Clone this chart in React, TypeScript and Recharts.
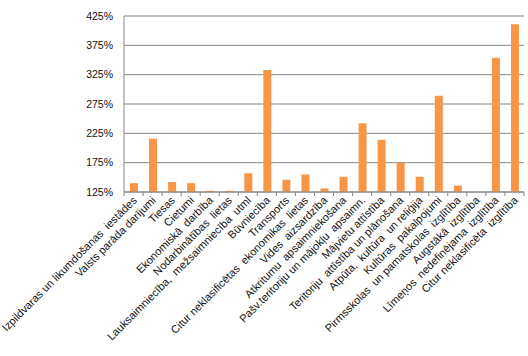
import React from "react";
import { BarChart, Bar, XAxis, YAxis, CartesianGrid } from "recharts";

const categories = [
  "Izpildvaras un likumdošanas  iestādes",
  "Valsts parāda darījumi",
  "Tiesas",
  "Cietumi",
  "Ekonomiskā  darbība",
  "Nodarbinātības  lietas",
  "Lauksaimniecība,  mežsaimniecība  utml",
  "Būvniecība",
  "Transports",
  "Citur neklasificētas  ekonomikas  lietas",
  "Vides  aizsardzība",
  "Atkritumu  apsaimniekošana",
  "Pašv.teritoriju un mājokļu  apsaimn.",
  "Mājvietu attīstība",
  "Teritoriju  attīstība un plānošana",
  "Atpūta,  kultūra  un reliģija",
  "Kultūras  pakalpojumi",
  "Pirmsskolas  un pamatskolas  izglītība",
  "Augstākā  izglītība",
  "Līmeņos  nedefinējama  izglītība",
  "Citur neklasificēta  izglītība",
];

const values: (number | null)[] = [
  140, 216, 142, 140, 127, 127, 157, 333, 146, 155, 131,
  151, 242, 214, 175, 151, 289, 136, null, 354, 411,
];

const yTicks = [125, 175, 225, 275, 325, 375, 425];

const data = categories.map((name, i) => ({ name, value: values[i] }));

const W = 528;
const H = 356;
const LEFT = 124;
const RIGHT_M = 4;
const BAND = (W - LEFT - RIGHT_M) / categories.length;
const FONT = "'Liberation Sans', Arial, sans-serif";

const XTick = (props: any) => {
  const { x, y, payload, index } = props;
  return (
    <g>
      <line x1={x - BAND / 2} x2={x - BAND / 2} y1={y} y2={y + 4} stroke="#868686" />
      {index === categories.length - 1 && (
        <line x1={x + BAND / 2} x2={x + BAND / 2} y1={y} y2={y + 4} stroke="#868686" />
      )}
      <text
        transform={`translate(${x + 4},${y + 9}) rotate(-45)`}
        textAnchor="end"
        fontSize={11}
        fontFamily={FONT}
        fill="#111"
        style={{ whiteSpace: "pre" }}
      >
        {payload.value}
      </text>
    </g>
  );
};

export default function App() {
  return (
    <div style={{ width: W, height: H }}>
      <style>{`body{margin:0}`}</style>
      <BarChart
        width={W}
        height={H}
        data={data}
        margin={{ top: 16, right: RIGHT_M, bottom: 0, left: 0 }}
      >
        <CartesianGrid vertical={false} stroke="#868686" strokeWidth={1} />
        <XAxis
          dataKey="name"
          interval={0}
          height={H - 192}
          tickLine={false}
          tickSize={0}
          tickMargin={0}
          stroke="#868686"
          tick={<XTick />}
        />
        <YAxis
          width={LEFT}
          domain={[125, 425]}
          ticks={yTicks}
          allowDataOverflow
          tickLine={false}
          tickSize={0}
          tickMargin={11}
          stroke="#868686"
          tick={{ fontSize: 10.5, fontFamily: FONT, fill: "#111" }}
          tickFormatter={(v: number) => `${v}%`}
        />
        <Bar dataKey="value" fill="#F79646" barSize={8} isAnimationActive={false} />
      </BarChart>
    </div>
  );
}
